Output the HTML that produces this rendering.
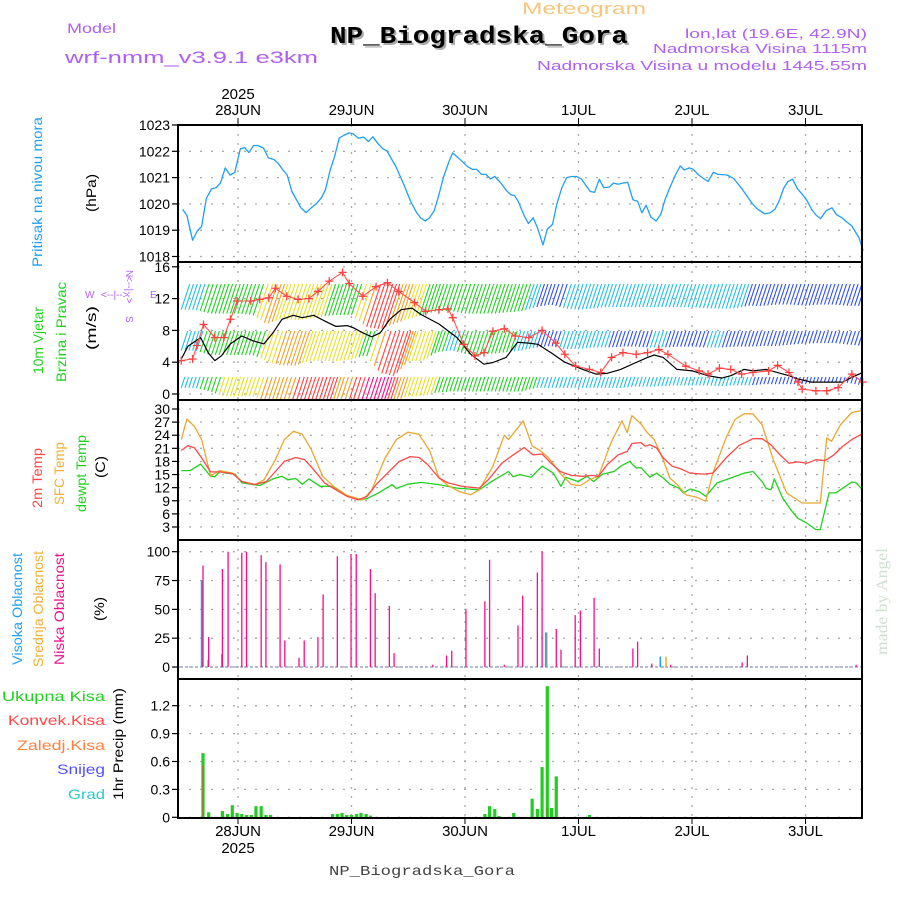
<!DOCTYPE html>
<html><head><meta charset="utf-8"><style>
body{margin:0;background:#fff}
svg{display:block}
text{font-family:"Liberation Sans",sans-serif}
</style></head><body>
<svg id="chart" width="900" height="900" viewBox="0 0 900 900" xmlns="http://www.w3.org/2000/svg">
<rect width="900" height="900" fill="#fff"/>
<text x="522" y="14" font-size="17" fill="#f5c77e" textLength="124" lengthAdjust="spacingAndGlyphs">Meteogram</text>
<text x="332" y="45" font-size="24" font-weight="bold" fill="#aaa" style="font-family:'Liberation Mono',monospace" textLength="298" lengthAdjust="spacingAndGlyphs">NP_Biogradska_Gora</text>
<text x="330" y="43" font-size="24" font-weight="bold" fill="#000" style="font-family:'Liberation Mono',monospace" textLength="298" lengthAdjust="spacingAndGlyphs">NP_Biogradska_Gora</text>
<text x="67" y="33" font-size="14" fill="#b060f0" textLength="49" lengthAdjust="spacingAndGlyphs">Model</text>
<text x="65" y="63" font-size="17" fill="#b060f0" textLength="253" lengthAdjust="spacingAndGlyphs">wrf-nmm_v3.9.1 e3km</text>
<text x="867" y="38" font-size="13" fill="#b060f0" text-anchor="end" textLength="182" lengthAdjust="spacingAndGlyphs">lon,lat (19.6E, 42.9N)</text>
<text x="867" y="53" font-size="13" fill="#b060f0" text-anchor="end" textLength="214" lengthAdjust="spacingAndGlyphs">Nadmorska Visina 1115m</text>
<text x="867" y="70" font-size="13" fill="#b060f0" text-anchor="end" textLength="330" lengthAdjust="spacingAndGlyphs">Nadmorska Visina u modelu 1445.55m</text>
<text x="422" y="875" font-size="14" fill="#444" text-anchor="middle" style="font-family:'Liberation Mono',monospace" textLength="186" lengthAdjust="spacingAndGlyphs">NP_Biogradska_Gora</text>
<text transform="translate(887,655) rotate(-90)" font-size="16" fill="#d0e0d0" style="font-family:'Liberation Serif',serif" textLength="107" lengthAdjust="spacingAndGlyphs">made by Angel</text>

<!-- left labels -->
<text transform="translate(42,267) rotate(-90)" font-size="14" fill="#20a0f0" textLength="150" lengthAdjust="spacingAndGlyphs">Pritisak na nivou mora</text>
<text transform="translate(96,212) rotate(-90)" font-size="14" fill="#000" textLength="38" lengthAdjust="spacingAndGlyphs">(hPa)</text>
<text transform="translate(43,374) rotate(-90)" font-size="14" fill="#20d020" textLength="67" lengthAdjust="spacingAndGlyphs">10m Vjetar</text>
<text transform="translate(66,382) rotate(-90)" font-size="14" fill="#20d020" textLength="100" lengthAdjust="spacingAndGlyphs">Brzina i Pravac</text>
<text transform="translate(96,350) rotate(-90)" font-size="14" fill="#000" textLength="44" lengthAdjust="spacingAndGlyphs">(m/s)</text>
<g fill="#b060f0" font-size="10">
<text x="85" y="298">W</text><text x="101" y="298">&lt;--|--&gt;</text><text x="150" y="298">E</text>
<text transform="translate(126,270) rotate(90)">N</text>
<text transform="translate(126,276) rotate(90)">&lt;--|--&gt;</text>
<text transform="translate(126,316) rotate(90)">S</text>
</g>
<text transform="translate(42,508) rotate(-90)" font-size="14" fill="#ff4848" textLength="60" lengthAdjust="spacingAndGlyphs">2m Temp</text>
<text transform="translate(64,505) rotate(-90)" font-size="14" fill="#f0b030" textLength="63" lengthAdjust="spacingAndGlyphs">SFC Temp</text>
<text transform="translate(86,512) rotate(-90)" font-size="14" fill="#20d020" textLength="77" lengthAdjust="spacingAndGlyphs">dewpt Temp</text>
<text transform="translate(105,478) rotate(-90)" font-size="14" fill="#000" textLength="22" lengthAdjust="spacingAndGlyphs">(C)</text>
<text transform="translate(22,665) rotate(-90)" font-size="14" fill="#20a0f0" textLength="112" lengthAdjust="spacingAndGlyphs">Visoka Oblacnost</text>
<text transform="translate(43,667) rotate(-90)" font-size="14" fill="#f0b030" textLength="116" lengthAdjust="spacingAndGlyphs">Srednja Oblacnost</text>
<text transform="translate(64,665) rotate(-90)" font-size="14" fill="#f0108c" textLength="112" lengthAdjust="spacingAndGlyphs">Niska Oblacnost</text>
<text transform="translate(104,621) rotate(-90)" font-size="14" fill="#000" textLength="24" lengthAdjust="spacingAndGlyphs">(%)</text>
<g font-size="14" text-anchor="end">
<text x="105" y="701" fill="#20d020" textLength="103" lengthAdjust="spacingAndGlyphs">Ukupna  Kisa</text>
<text x="105" y="725" fill="#ff4848" textLength="97" lengthAdjust="spacingAndGlyphs">Konvek.Kisa</text>
<text x="105" y="750" fill="#ff8040" textLength="88" lengthAdjust="spacingAndGlyphs">Zaledj.Kisa</text>
<text x="105" y="774" fill="#5050ff" textLength="48" lengthAdjust="spacingAndGlyphs">Snijeg</text>
<text x="105" y="799" fill="#30c8d0" textLength="37" lengthAdjust="spacingAndGlyphs">Grad</text>
</g>
<text transform="translate(123,800) rotate(-90)" font-size="14" fill="#000" textLength="112" lengthAdjust="spacingAndGlyphs">1hr Precip (mm)</text>

<defs>
<clipPath id="cw"><rect x="178" y="262" width="684" height="138"/></clipPath>
<clipPath id="ct"><rect x="178" y="400" width="684" height="140"/></clipPath>
</defs>
<g id="grid"></g>
<g id="marks"></g>
<g id="frames"></g>
</svg>
<script>
// ---------- data ----------
const dayLabels = ["28JUN","29JUN","30JUN","1JUL","2JUL","3JUL"];
const dayHours = [12,36,60,84,108,132];
const pTicks = [1023,1022,1021,1020,1019,1018];
const wTicks = [16,12,8,4,0];
const tTicks = [30,27,24,21,18,15,12,9,6,3];
const cTicks = [100,75,50,25,0];
const rTicks = [1.2,0.9,0.6,0.3,0];

const pHours = [0.3,1.2,2.4,3.4,4.3,5.3,6.4,7.4,8.3,9.3,10.3,11.3,12.5,13.4,14.3,15.3,16.2,17.4,18.4,19.6,20.5,21.5,22.4,23.4,25.3,26.4,27.5,28.6,29.6,30.5,31.5,32.4,33.4,34.3,35.5,36.4,37.4,38.6,39.6,40.5,41.6,42.6,43.5,45.4,47.1,48.5,49.7,50.6,51.6,52.5,53.5,54.4,55.5,56.6,57.4,58.3,59.5,60.6,61.6,62.5,63.5,64.4,65.4,66.3,67.6,68.8,69.7,70.5,71.3,72.5,73.4,74.4,75.3,76.5,77.4,78.5,79.4,80.5,81.5,82.5,83.6,84.6,85.5,86.5,87.4,88.4,89.3,90.5,91.4,92.4,93.3,94.4,95.5,96.5,97.4,98.3,99.3,100.4,101.4,102.3,103.3,104.5,105.5,106.4,107.4,108.3,109.4,110.4,111.4,112.5,113.5,115.4,116.8,118.7,120.6,121.8,123.4,124.5,125.5,126.4,127.4,128.3,129.3,130.3,131.4,132.4,133.3,134.3,135.2,136.4,137.6,138.5,139.7,140.9,141.8,143.3,144.2];
const pressure = [1019.79,1019.56,1018.62,1018.97,1019.14,1020.2,1020.57,1020.62,1020.8,1021.37,1021.1,1021.19,1022.1,1022.14,1021.95,1022.22,1022.22,1022.12,1021.75,1021.69,1021.54,1021.29,1021.1,1020.47,1019.85,1019.67,1019.85,1020.01,1020.22,1020.54,1021.29,1021.79,1022.5,1022.6,1022.7,1022.66,1022.5,1022.54,1022.37,1022.55,1022.29,1022.1,1022.01,1021.41,1020.72,1020.1,1019.69,1019.47,1019.35,1019.47,1019.75,1020.29,1021.04,1021.6,1021.94,1021.79,1021.6,1021.41,1021.31,1021.31,1021.12,1021.12,1020.95,1021.04,1020.79,1020.5,1020.35,1020.31,1020.08,1019.56,1019.25,1019.47,1019.1,1018.44,1019.04,1019.22,1019.97,1020.62,1021.0,1021.04,1021.04,1020.95,1020.72,1020.47,1020.44,1020.94,1020.62,1020.64,1020.79,1020.75,1020.79,1020.82,1020.16,1020.1,1019.66,1019.95,1019.5,1019.35,1019.6,1020.16,1020.62,1021.1,1021.44,1021.29,1021.37,1021.31,1021.1,1020.97,1020.85,1021.2,1021.12,1021.1,1020.97,1020.54,1020.04,1019.81,1019.62,1019.66,1019.79,1020.1,1020.6,1020.85,1020.94,1020.57,1020.35,1020.1,1019.79,1019.56,1019.44,1019.75,1019.85,1019.6,1019.47,1019.29,1019.16,1018.72,1018.22];

const windHours = [0,1.4,4.1,5.7,7.1,8.5,10.4,12.8,15.1,17.5,19.4,21.3,23.7,25.6,28,30.3,32.7,35.1,36.5,38.4,40.3,42.1,44.1,46.5,48.8,50.7,54.5,58.3,61.2,64,65.9,68.7,71.1,73.5,75.4,78.2,81.1,84.9,87.7,90.1,92.9,98.6,100,101.9,104.8,108.1,111.4,114.3,116.2,119,120.9,123.7,128.5,130.4,133.2,137,139.9,141.8,144.1];
const windSpeed = [4.4,6.0,7.1,5.2,4.2,4.8,6.3,7.3,6.7,6.3,7.7,9.4,9.9,9.6,9.9,9.2,8.5,8.6,8.3,7.7,7.2,7.7,9.4,10.6,10.8,10.0,8.8,7.1,5.0,3.75,3.96,4.6,6.5,6.4,6.25,5.2,4.0,3.1,2.5,2.6,3.1,4.6,4.9,4.6,3.1,2.9,2.3,2.0,2.3,3.1,2.9,3.1,2.3,1.9,1.5,1.5,1.5,2.1,2.7,1.7];
const gustHours = [0,2.4,3.3,4.7,7.1,9.0,10.4,11.8,14.7,16.6,18.5,19.9,22.3,24.7,27.0,28.9,31.3,34.1,35.5,38.4,41.2,43.6,46.0,49.3,51.7,54.5,56.4,57.4,59.7,62.1,64.0,65.9,68.3,70.6,73.5,76.3,79.2,81.1,83.4,86.3,88.7,91.0,93.4,96.2,98.6,101.0,102.9,106.7,109.5,111.4,113.8,116.2,118.5,120.9,124.2,126.1,128.5,130.4,131.3,134.2,136.5,138.9,141.8,144.1];
const gustSpeed = [4.2,4.4,6.1,8.75,7.1,7.1,9.4,11.7,11.7,11.9,12.1,13.3,12.3,11.9,12.0,12.9,14.2,15.3,13.9,12.3,13.5,14.0,12.9,11.5,10.4,10.6,10.7,9.6,6.25,4.8,5.2,7.9,8.2,7.3,7.1,8.0,6.4,5.0,3.5,3.1,2.7,4.6,5.2,5.0,5.2,5.6,5.0,3.5,2.9,2.5,3.25,3.1,2.5,2.7,2.9,3.6,2.7,1.5,0.6,0.4,0.4,0.8,2.5,1.5];

// barb band speeds, every 3 hours from h=0 to h=144
const barbLow = [4.5,4.5,6,8,8,8,10,10,12,12,12,10,12,14,13.5,10,8,8,6.5,6,6,6,6,6,6,4.5,4.5,4.5,4.5,4.5,4.5,4.5,4,4,3.8,3.5,3.5,3.5,3.8,3.5,3.5,3,3,3,3,2,2,2.5,3.5];
const barbMid = [4.5,4.5,6,6,6,6,8,9.5,9.5,8,8,8,7.5,6,12,13,8,8,5,4.5,5.5,6,5.5,5,4.5,3.5,3,4,4,3.5,3.5,3.2,3.2,3.5,3.5,3.2,3.2,3.5,3.5,3.2,3.2,3,3,2.5,2.2,2,2,2.5,3];
const barbHigh = [4.5,4.5,6,6,6,6.5,10,8,8.5,8,7,6.5,6.5,11,12,10,8,6.5,5,5,6,6,6,5.5,5,3.5,2.5,4,4.5,4,3.5,3.5,3.5,3.5,3.5,3.5,3.5,4,4,4,3,3,2.5,2.5,3,2.5,2.5,3,3];

const tHoursRed = [0,1.4,2.8,4.3,6.2,8.1,10.9,12.8,15.6,18.0,19.9,21.8,24.2,26.1,28.0,30.3,32.7,35.1,37.4,39.3,41.2,43.6,46.0,48.4,50.3,52.1,54.5,56.4,59.3,63.0,64.9,67.8,70.2,72.5,74.4,76.3,78.2,80.1,82.5,84.9,86.8,88.2,90.1,92.4,94.3,95.3,97.2,98.1,99.1,100.5,101.9,103.8,105.7,107.6,110.5,112.4,115.2,118.0,120.9,122.8,124.7,126.6,128.5,130.4,132.3,134.2,136.1,138.0,139.9,141.8,144.1];
const temp2m = [20.5,21.6,21.1,18.8,15.6,15.6,15.2,13.4,12.7,13.4,15.7,18.0,18.9,18.4,16.1,13.1,11.5,10.0,9.2,10.0,12.7,15.3,17.9,19.1,18.9,17.3,14.2,13.1,12.3,11.9,13.8,17.6,19.5,21.2,19.5,19.7,17.6,15.7,14.8,14.6,14.8,14.6,17.3,19.5,20.3,22.1,22.3,21.5,21.8,21.1,18.8,16.9,16.3,15.3,15.1,15.3,18.8,21.7,23.2,23.2,21.8,19.5,17.6,17.9,17.6,18.4,18.2,19.5,21.5,23.0,24.4];
const tHoursSfc = [0,1.2,2.8,4.3,6.2,8.1,10.9,12.8,15.6,17.5,19.9,21.8,23.7,25.6,27.5,29.9,32.2,35.1,38.4,40.3,43.1,45.5,47.9,50.3,52.6,54.5,56.4,58.8,61.2,63.0,65.9,68.3,69.2,70.6,72.3,74.2,75.9,77.7,80.1,82.5,84.4,86.3,88.2,91.0,93.2,94.3,95.3,97.2,98.6,100.0,101.9,103.3,104.8,106.7,109.0,110.9,112.4,115.2,117.1,119.0,120.9,122.8,125.2,128.0,131.3,134.6,135.1,136.5,137.5,139.4,141.8,144.1];
const tempSfc = [23.0,27.7,26.0,23.0,14.7,15.9,15.3,13.4,12.7,13.8,18.4,23.0,24.9,24.2,20.7,14.6,12.3,10.2,9.2,11.5,18.8,23.0,24.7,24.2,20.3,14.2,12.5,11.1,10.4,11.5,16.9,24.0,23.0,24.9,27.3,21.5,20.5,18.8,15.3,12.7,12.5,13.8,14.6,22.6,27.3,24.6,28.5,26.6,24.5,23.0,18.4,14.2,12.8,10.4,9.8,8.9,15.3,23.4,27.6,28.9,28.9,26.4,18.4,10.8,8.5,8.5,8.5,23.4,22.6,26.4,29.2,29.7];
const tHoursDew = [0,1.9,4.1,6.2,7.1,8.2,9.5,11.4,12.8,16.6,19.4,21.3,22.5,24.2,25.6,27.0,29.4,31.8,34.6,37.9,39.3,41.7,44.6,45.5,47.9,50.7,54.5,58.3,63.0,65.9,69.2,70.2,71.6,74.0,76.3,78.7,80.3,81.3,83.9,85.8,87.2,89.1,91.5,92.9,94.8,96.2,97.2,99.1,100.5,101.9,103.3,105.2,106.2,107.6,109.5,110.9,113.3,116.2,119.0,120.9,122.8,123.7,124.7,125.4,127.1,128.9,130.4,132.3,134.2,135.1,137.0,138.4,139.9,141.8,142.7,144.1];
const tempDew = [15.9,15.9,17.4,14.6,14.5,15.7,15.3,15.1,13.1,12.5,14.0,14.6,13.8,14.1,12.8,14.0,12.3,12.3,10.4,9.2,9.5,10.8,12.7,11.8,12.8,13.2,12.7,11.9,11.5,13.6,15.7,14.5,15.0,14.4,16.9,15.3,12.3,14.4,13.4,14.6,13.4,15.1,15.7,16.9,18.0,16.5,16.6,14.4,15.3,14.2,12.8,11.9,10.8,11.7,11.1,10.0,13.1,14.2,15.3,15.7,13.4,11.8,11.5,14.0,9.8,6.9,5.0,3.9,2.4,2.4,10.8,10.8,11.9,13.3,13.1,11.5];

const lowCloudHours = [4.6,5.8,8.7,9.9,12.8,13.8,16.9,17.9,20.9,21.9,24.9,26.0,28.9,30.0,33.0,35.9,37.0,40.0,41.0,44.0,45.0,53.2,56.1,57.2,60.2,64.2,65.2,68.3,71.2,72.2,75.3,76.3,79.3,80.3,83.3,84.4,87.3,88.4,95.5,96.5,99.5,103.5,118.6,119.7,142.7];
const lowCloud = [88,26,85,100,99,100,97,91,89,23,8,23,26,63,96,98,98,85,64,53,12,2,10,14,50,57,93,2,36,62,82,100,33,15,45,49,60,16,16,22,3,2,4,10,2];
const midCloudHours = [4.5,77.3,102.5];
const midCloud = [75,30,9];
const highCloudHours = [4.3,5.7,8.6,77.1,101.3];
const highCloud = [75,6,11,30,9];

const rainHours = [4.6,5.8,8.7,9.8,10.8,11.8,12.8,13.8,14.8,15.8,16.9,17.9,18.9,32.0,33.0,34.0,35.0,36.0,37.1,38.0,39.1,40.0,64.2,65.2,66.3,67.2,70.3,74.2,75.3,76.3,77.4,78.3,79.3,86.3];
const rainTotal = [0.69,0.054,0.068,0.036,0.13,0.047,0.036,0.025,0.025,0.12,0.12,0.025,0.025,0.036,0.036,0.047,0.025,0.025,0.036,0.047,0.036,0.018,0.036,0.12,0.09,0.014,0.047,0.2,0.09,0.54,1.41,0.1,0.44,0.025];
const convHours = [4.6,77.4];
const convRain = [0.56,0.1];

// ---------- scales ----------
const X0=178, X1=862;
function xs(h){return 238+(h-12)*113.5/24;}
function yP(p){return 125+(1023-p)*26.3;}
function yW(v){return 394-v*7.95;}
function yT(t){return 409+(30-t)*4.37;}
function yC(c){return 551.7+(100-c)*1.153;}
function yR(r){return 817.3-r*93;}
const NS="http://www.w3.org/2000/svg";
const grid=document.getElementById('grid'), marks=document.getElementById('marks'), frames=document.getElementById('frames');
function mk(tag,attrs,parent){const e=document.createElementNS(NS,tag);for(const k in attrs)e.setAttribute(k,attrs[k]);parent.appendChild(e);return e;}

const panels=[[125,262,pTicks,yP,'pressure'],[262,400,wTicks,yW,'wind'],[400,540,tTicks,yT,'temperature'],[540,679,cTicks,yC,'cloud'],[679,818,rTicks,yR,'precip']];
panels.forEach(pn=>{
  const [top,bot,ticks,ys,name]=pn;
  ticks.forEach(v=>{
    const y=ys(v);
    const g=mk('line',{x1:X0,x2:X1,y1:y,y2:y,stroke:'#aaa','stroke-width':1.3,'stroke-dasharray':'2,9'},grid);
    
    
    const tk=mk('line',{x1:X0-6,x2:X0,y1:y,y2:y,stroke:'#000','stroke-width':1.2},frames);
    
    
    const tl=mk('text',{x:X0-8,y:y+5,'font-size':14,'text-anchor':'end',fill:'#000'},frames);
    
    
    tl.textContent=String(v);
  });
  dayHours.forEach(h=>{
    const g=mk('line',{x1:xs(h),x2:xs(h),y1:top,y2:bot,stroke:'#aaa','stroke-width':1.3,'stroke-dasharray':'2,7'},grid);
    
    
  });
  const r=mk('rect',{x:X0,y:top,width:X1-X0,height:bot-top,fill:'none',stroke:'#000','stroke-width':2},frames);
  
  
});
// date axis labels
dayHours.forEach((h,i)=>{
  const t=mk('text',{x:xs(h),y:115,'font-size':15,'text-anchor':'middle',fill:'#000'},frames);
  
  
  t.textContent=dayLabels[i];
  const b=mk('text',{x:xs(h),y:836,'font-size':15,'text-anchor':'middle',fill:'#000'},frames);
  
  
  b.textContent=dayLabels[i];
  const t1=mk('line',{x1:xs(h),x2:xs(h),y1:118,y2:125,stroke:'#000'},frames);
  
  
  const t2=mk('line',{x1:xs(h),x2:xs(h),y1:818,y2:824,stroke:'#000'},frames);
  
  
});
const y1=mk('text',{x:xs(12),y:99,'font-size':15,'text-anchor':'middle',fill:'#000'},frames);


y1.textContent='2025';
const y2=mk('text',{x:xs(12),y:853,'font-size':15,'text-anchor':'middle',fill:'#000'},frames);


y2.textContent='2025';

function poly(hs,vs,ys,color,w,name,clip){
  const pts=hs.map((h,i)=>xs(h).toFixed(1)+','+ys(vs[i]).toFixed(1)).join(' ');
  const a={points:pts,fill:'none',stroke:color,'stroke-width':w,'stroke-linejoin':'round'};
  if(clip)a['clip-path']='url(#'+clip+')';
  const p=mk('polyline',a,marks);
  
  
  return p;
}
// pressure
poly(pHours,pressure,yP,'#20a0f0',1.3,'pressure-line');

// wind barbs
const palette=['#9030e0','#3050f0','#20c0e0','#20d020','#e8e020','#f0a020','#ff4040','#f0108c'];
function colorFor(s){const th=[2,3.5,4.8,7,9,11,13];let i=0;while(i<th.length&&s>=th[i])i++;return palette[i];}
function interp(arr,h){const f=h/3;const i=Math.min(Math.floor(f),arr.length-2);const t=f-i;return arr[i]*(1-t)+arr[i+1]*t;}
const bands=[[barbLow,377,2.4,0,'barb-low'],[barbMid,331,3.0,6,'barb-mid'],[barbHigh,284,2.6,14,'barb-high']];
const bg=mk('g',{'clip-path':'url(#cw)'},marks);
bands.forEach(b=>{
  const [arr,base,k,c,name]=b;
  for(let h=0;h<=144;h+=0.8){
    const s=interp(arr,h);
    const len=s*k+c;
    const x=xs(h);
    const l=mk('line',{x1:x+len*0.33,y1:base,x2:x,y2:base+len,stroke:colorFor(s),'stroke-width':1.1},bg);
    
    
  }
});
poly(windHours,windSpeed,yW,'#000',1.2,'wind-speed-line','cw');
poly(gustHours,gustSpeed,yW,'#ff5050',1.1,'wind-gust-line','cw');
gustHours.forEach((h,i)=>{
  const x=xs(h),y=yW(gustSpeed[i]);
  const m=mk('path',{d:`M${x-4},${y}H${x+4}M${x},${y-4}V${y+4}`,stroke:'#ff4040','stroke-width':1.3},marks);
  
  
});

// temperatures
poly(tHoursDew,tempDew,yT,'#20d020',1.3,'dewpoint-line','ct');
poly(tHoursSfc,tempSfc,yT,'#e8a830',1.3,'sfc-temp-line','ct');
poly(tHoursRed,temp2m,yT,'#ff4848',1.3,'temp-2m-line','ct');

// clouds
const cb=mk('line',{x1:X0+2,x2:X1-2,y1:yC(0),y2:yC(0),stroke:'#a0a8c0','stroke-width':1.5,'stroke-dasharray':'3,2'},marks);


function bars(hs,vs,ys,y0,color,w,name){
  hs.forEach((h,i)=>{
    const x=xs(h),y=ys(vs[i]);
    const r=mk('rect',{x:x-w/2,y:y,width:w,height:Math.max(0,y0-y),fill:color},marks);
    
    
  });
}
bars(midCloudHours,midCloud,yC,yC(0),'#f0b030',1.6,'mid-cloud-bar');
bars(highCloudHours,highCloud,yC,yC(0),'#20a0f0',1.6,'high-cloud-bar');
bars(lowCloudHours,lowCloud,yC,yC(0),'#f0108c',1.3,'low-cloud-bar');

// precip
bars(rainHours,rainTotal,yR,yR(0),'#22cc22',3.2,'total-rain-bar');
bars(convHours,convRain,yR,yR(0),'#ff4040',1,'convective-rain-bar');
</script>
</body></html>
